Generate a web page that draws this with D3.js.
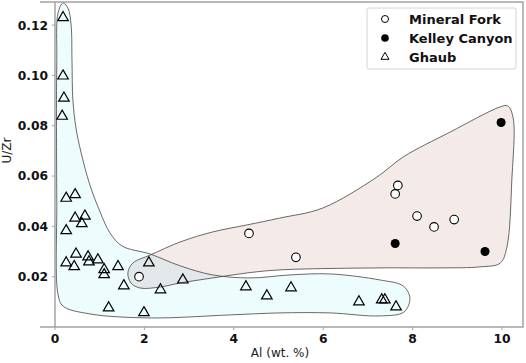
<!DOCTYPE html>
<html lang="en">
<head>
  <meta charset="UTF-8">
  <title>U/Zr vs Al</title>
  <style>
    body { margin: 0; padding: 0; background: #fff; }
    svg { display: block; }
    .tick-label { font-family: "DejaVu Sans", sans-serif; font-weight: bold; font-size: 12.3px; fill: #111; }
    .axis-title { font-family: "DejaVu Sans", sans-serif; font-size: 12px; fill: #222; }
    .legend-text { font-family: "DejaVu Sans", sans-serif; font-weight: bold; font-size: 13px; fill: #111; }
  </style>
</head>
<body>
<div id="chart"></div>
<script src="https://d3js.org/d3.v7.min.js"></script>
<script>
  const width = 526;
  const height = 363;

  // data: [Al wt.%, U/Zr]
  const mineralFork = [
    [1.88, 0.0200], [4.34, 0.0372], [5.39, 0.0277], [7.67, 0.0563],
    [7.61, 0.0529], [8.10, 0.0441], [8.48, 0.0398], [8.93, 0.0427]
  ];
  const kelleyCanyon = [
    [7.61, 0.0332], [9.62, 0.0300], [9.98, 0.0813]
  ];
  const ghaub = [
    [0.18, 0.1230], [0.18, 0.0998], [0.20, 0.0910], [0.16, 0.0838],
    [0.25, 0.0512], [0.45, 0.0526], [0.45, 0.0433], [0.67, 0.0441],
    [0.60, 0.0411], [0.25, 0.0383], [0.47, 0.0290], [0.25, 0.0255],
    [0.43, 0.0240], [0.74, 0.0279], [0.76, 0.0259], [0.96, 0.0267],
    [1.10, 0.0228], [1.10, 0.0208], [1.41, 0.0240], [1.54, 0.0164],
    [1.20, 0.0076], [1.99, 0.0057], [2.10, 0.0255], [2.36, 0.0148],
    [2.86, 0.0187], [4.27, 0.0160], [4.74, 0.0124], [5.28, 0.0156],
    [6.80, 0.0100], [7.31, 0.0108], [7.38, 0.0108], [7.63, 0.0080]
  ];

  // hand-drawn envelopes, same data units
  const ghaubField = [
    [0.18, 0.1288], [0.29, 0.1268], [0.36, 0.1200], [0.38, 0.1060],
    [0.40, 0.0903], [0.47, 0.0791], [0.58, 0.0696], [0.78, 0.0565],
    [1.01, 0.0457], [1.23, 0.0374], [1.50, 0.0322], [2.13, 0.0290],
    [2.80, 0.0243], [3.53, 0.0207], [4.36, 0.0195], [5.26, 0.0207],
    [6.15, 0.0211], [7.27, 0.0187], [7.79, 0.0163], [7.94, 0.0115],
    [7.81, 0.0060], [7.27, 0.0044], [6.15, 0.0056], [5.03, 0.0056],
    [3.91, 0.0048], [2.13, 0.0036], [0.78, 0.0052], [0.18, 0.0083],
    [0.07, 0.0127], [0.04, 0.0505], [0.04, 0.1060], [0.07, 0.1250]
  ];
  const shaleField = [
    [1.63, 0.0215], [1.74, 0.0254], [2.13, 0.0286], [2.80, 0.0338],
    [3.53, 0.0378], [4.30, 0.0406], [5.03, 0.0433], [5.99, 0.0473],
    [7.20, 0.0596], [7.79, 0.0676], [8.84, 0.0775], [9.96, 0.0875],
    [10.13, 0.0879], [10.25, 0.0831], [10.22, 0.0584], [10.11, 0.0318],
    [9.96, 0.0254], [9.51, 0.0239], [8.61, 0.0235], [7.27, 0.0235],
    [5.03, 0.0227], [4.30, 0.0215], [3.53, 0.0195], [2.80, 0.0175],
    [2.35, 0.0159], [1.90, 0.0155], [1.70, 0.0175]
  ];

  const xTicks = [0, 2, 4, 6, 8, 10];
  const yTicks = [0.02, 0.04, 0.06, 0.08, 0.10, 0.12];
  const legendItems = ["Mineral Fork", "Kelley Canyon", "Ghaub"];

  const frame = { left: 40, right: 523, top: 2, bottom: 327 };

  const x = d3.scaleLinear().domain([-0.3356, 10.47]).range([frame.left, frame.right]);
  const y = d3.scaleLinear().domain([0, 0.1292]).range([frame.bottom, frame.top]);

  const svg = d3.select("#chart").append("svg")
    .attr("width", width)
    .attr("height", height);

  const line = d3.line()
    .x(d => x(d[0]))
    .y(d => y(d[1]))
    .curve(d3.curveCatmullRomClosed.alpha(0.5));

  const defs = svg.append("defs");
  defs.append("clipPath").attr("id", "ghaubClip")
    .append("path").attr("d", line(ghaubField));

  // envelopes
  svg.append("path")
    .attr("d", line(ghaubField))
    .attr("fill", "#edfcfd")
    .attr("stroke", "none");
  svg.append("path")
    .attr("d", line(shaleField))
    .attr("fill", "#f4eae8")
    .attr("stroke", "none");
  svg.append("path")
    .attr("d", line(shaleField))
    .attr("clip-path", "url(#ghaubClip)")
    .attr("fill", "#e2e8ea")
    .attr("stroke", "none");
  svg.append("path")
    .attr("d", line(ghaubField))
    .attr("fill", "none")
    .attr("stroke", "#444")
    .attr("stroke-width", 0.8);
  svg.append("path")
    .attr("d", line(shaleField))
    .attr("fill", "none")
    .attr("stroke", "#444")
    .attr("stroke-width", 0.8);

  // frame
  const frameColor = "#a3a3a3";
  svg.append("path")
    .attr("d", `M${frame.left},${frame.top}H${frame.right}V${frame.bottom}H${frame.left}`)
    .attr("fill", "none")
    .attr("stroke", frameColor)
    .attr("stroke-width", 1.5);
  svg.append("line")
    .attr("x1", x(0)).attr("x2", x(0))
    .attr("y1", frame.top).attr("y2", frame.bottom)
    .attr("stroke", frameColor)
    .attr("stroke-width", 1.5);

  // x ticks
  const xg = svg.append("g");
  xTicks.forEach(t => {
    xg.append("line")
      .attr("x1", x(t)).attr("x2", x(t))
      .attr("y1", frame.bottom).attr("y2", frame.bottom + 3)
      .attr("stroke", frameColor);
    xg.append("text")
      .attr("class", "tick-label")
      .attr("x", x(t))
      .attr("y", frame.bottom + 16)
      .attr("text-anchor", "middle")
      .text(t);
  });

  // y ticks
  const yg = svg.append("g");
  yTicks.forEach(t => {
    yg.append("line")
      .attr("x1", x(0) - 3).attr("x2", x(0))
      .attr("y1", y(t)).attr("y2", y(t))
      .attr("stroke", frameColor);
    yg.append("text")
      .attr("class", "tick-label")
      .attr("x", x(0) - 7)
      .attr("y", y(t))
      .attr("dy", "0.36em")
      .attr("text-anchor", "end")
      .text(d3.format(".2f")(t));
  });

  svg.append("text")
    .attr("class", "axis-title")
    .attr("transform", `translate(11,${(frame.top + frame.bottom) / 2 - 14}) rotate(-90)`)
    .attr("text-anchor", "middle")
    .text("U/Zr");
  svg.append("text")
    .attr("class", "axis-title")
    .attr("x", 280)
    .attr("y", 357)
    .attr("text-anchor", "middle")
    .text("Al (wt. %)");

  // points
  const tri = d3.symbol().type(d3.symbolTriangle).size(48);
  svg.append("g").selectAll("path")
    .data(ghaub)
    .join("path")
    .attr("d", tri)
    .attr("transform", d => `translate(${x(d[0])},${y(d[1])})`)
    .attr("fill", "none")
    .attr("stroke", "#000")
    .attr("stroke-width", 1.2);

  svg.append("g").selectAll("circle")
    .data(mineralFork)
    .join("circle")
    .attr("cx", d => x(d[0]))
    .attr("cy", d => y(d[1]))
    .attr("r", 4.3)
    .attr("fill", "#fff")
    .attr("stroke", "#000")
    .attr("stroke-width", 1.1);

  svg.append("g").selectAll("circle")
    .data(kelleyCanyon)
    .join("circle")
    .attr("cx", d => x(d[0]))
    .attr("cy", d => y(d[1]))
    .attr("r", 4.5)
    .attr("fill", "#000");

  // legend
  const legend = svg.append("g").attr("transform", "translate(367,8)");
  legend.append("rect")
    .attr("width", 149).attr("height", 61)
    .attr("rx", 2)
    .attr("fill", "#fff")
    .attr("stroke", "#d4d4d4");
  legendItems.forEach((name, i) => {
    const ly = 11 + i * 19;
    if (i === 0) {
      legend.append("circle").attr("cx", 18).attr("cy", ly).attr("r", 3.5)
        .attr("fill", "#fff").attr("stroke", "#000").attr("stroke-width", 1);
    } else if (i === 1) {
      legend.append("circle").attr("cx", 18).attr("cy", ly).attr("r", 3.8)
        .attr("fill", "#000");
    } else {
      legend.append("path").attr("d", d3.symbol().type(d3.symbolTriangle).size(28)())
        .attr("transform", `translate(18,${ly})`)
        .attr("fill", "none").attr("stroke", "#000").attr("stroke-width", 1);
    }
    legend.append("text")
      .attr("class", "legend-text")
      .attr("x", 42)
      .attr("y", ly)
      .attr("dy", "0.36em")
      .text(name);
  });
</script>
</body>
</html>
